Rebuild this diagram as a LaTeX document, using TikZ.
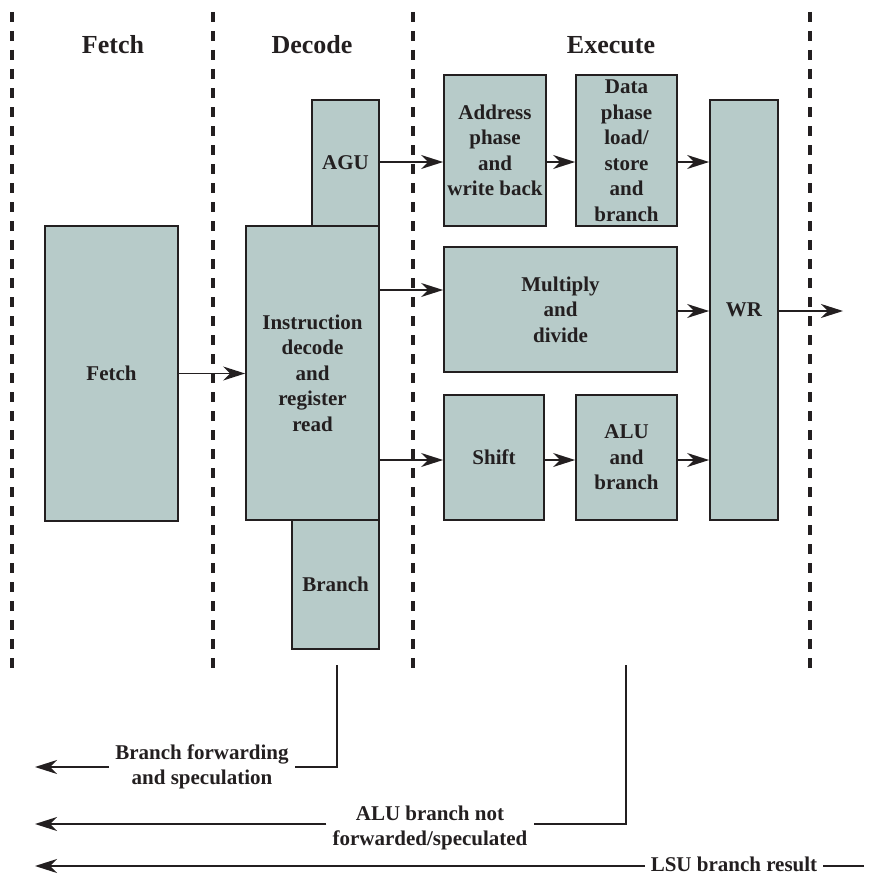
\documentclass[tikz,border=0pt]{standalone}
\usepackage{fontspec}
\setmainfont{Liberation Serif}
\usetikzlibrary{arrows.meta}
\definecolor{boxfill}{RGB}{183,203,201}
\definecolor{ink}{RGB}{35,31,32}
\begin{document}
\begin{tikzpicture}[x=1pt,y=-1pt,
  blk/.style={draw=ink, fill=boxfill, line width=1.8pt, align=center,
    font=\fontsize{21}{25.5}\selectfont\bfseries, text=ink, inner sep=0pt},
  hdr/.style={font=\fontsize{26}{30}\selectfont\bfseries, text=ink, inner sep=0pt},
  lbl/.style={align=center, font=\fontsize{21}{25.5}\selectfont\bfseries, text=ink,
    inner xsep=6pt, inner ysep=0pt},
  arr/.style={draw=ink, line width=1.6pt, -{Stealth[length=22pt,width=14pt,inset=7pt]}},
  wire/.style={draw=ink, line width=1.8pt},
  sepline/.style={draw=ink, line width=3.2pt, dash pattern=on 10pt off 9pt}]
\useasboundingbox (0,0) rectangle (871,875);

% stage separators
\draw[sepline] (12,12) -- (12,672);
\draw[sepline] (213,12) -- (213,672);
\draw[sepline] (413,12) -- (413,672);
\draw[sepline] (810,12) -- (810,672);

% headers
\node[hdr] (hFetch) at (113,45) {Fetch};
\node[hdr] (hDecode) at (312,45) {Decode};
\node[hdr] (hExec) at (611,45) {Execute};

% blocks
\node[blk, minimum width=133pt, minimum height=295pt] (fetch) at (111.5,373.5) {Fetch};
\node[blk, minimum width=133pt, minimum height=294pt] (decode) at (312.5,373) {Instruction\\decode\\and\\register\\read};
\node[blk, minimum width=67pt, minimum height=126pt] (agu) at (345.5,163) {AGU};
\node[blk, minimum width=87pt, minimum height=129pt] (branch) at (335.5,584.5) {Branch};
\node[blk, minimum width=102pt, minimum height=151pt] (addr) at (495,150.5) {Address\\phase\\and\\write back};
\node[blk, minimum width=101pt, minimum height=151pt] (data) at (626.5,150.5) {Data\\phase\\load/\\store\\and\\branch};
\node[blk, minimum width=233pt, minimum height=125pt] (mul) at (560.5,309.5) {Multiply\\and\\divide};
\node[blk, minimum width=100pt, minimum height=125pt] (shift) at (494,457.5) {Shift};
\node[blk, minimum width=101pt, minimum height=125pt] (alu) at (626.5,457.5) {ALU\\and\\branch};
\node[blk, minimum width=68pt, minimum height=420pt] (wr) at (744,310) {WR};

% row helpers
\coordinate (r1) at (0,162);
\coordinate (r2) at (0,290);
\coordinate (r3) at (0,311);
\coordinate (r4) at (0,460);
\coordinate (out) at (843,311);

% connectors
\draw[arr] (agu.east |- r1) -- (addr.west |- r1);
\draw[arr] (addr.east |- r1) -- (data.west |- r1);
\draw[arr] (data.east |- r1) -- (wr.west |- r1);
\draw[arr] (decode.east |- r2) -- (mul.west |- r2);
\draw[arr] (mul.east |- r3) -- (wr.west |- r3);
\draw[arr] (wr.east |- r3) -- (out);
\draw[arr] (fetch.east) -- (decode.west |- fetch.east);
\draw[arr] (decode.east |- r4) -- (shift.west |- r4);
\draw[arr] (shift.east |- r4) -- (alu.west |- r4);
\draw[arr] (alu.east |- r4) -- (wr.west |- r4);

% feedback paths
\coordinate (bfTop) at (337,665);
\coordinate (bfEnd) at (35,767);
\node[lbl] (bf) at (202,767) {Branch forwarding\\and speculation};
\draw[wire] (bfTop) |- (bf.east);
\draw[arr] (bf.west) -- (bfEnd);

\coordinate (aluTop) at (626,665);
\coordinate (r5) at (0,824);
\coordinate (aluEnd) at (35,824);
\node[lbl] (alb) at (430,828) {ALU branch not\\forwarded/speculated};
\draw[wire] (aluTop) |- (alb.east |- r5);
\draw[arr] (alb.west |- r5) -- (aluEnd);

\coordinate (r6) at (0,866);
\coordinate (lsuStart) at (864,866);
\coordinate (lsuEnd) at (35,866);
\node[lbl] (lsu) at (734,864) {LSU branch result};
\draw[wire] (lsuStart) -- (lsu.east |- r6);
\draw[arr] (lsu.west |- r6) -- (lsuEnd);
\end{tikzpicture}
\end{document}
